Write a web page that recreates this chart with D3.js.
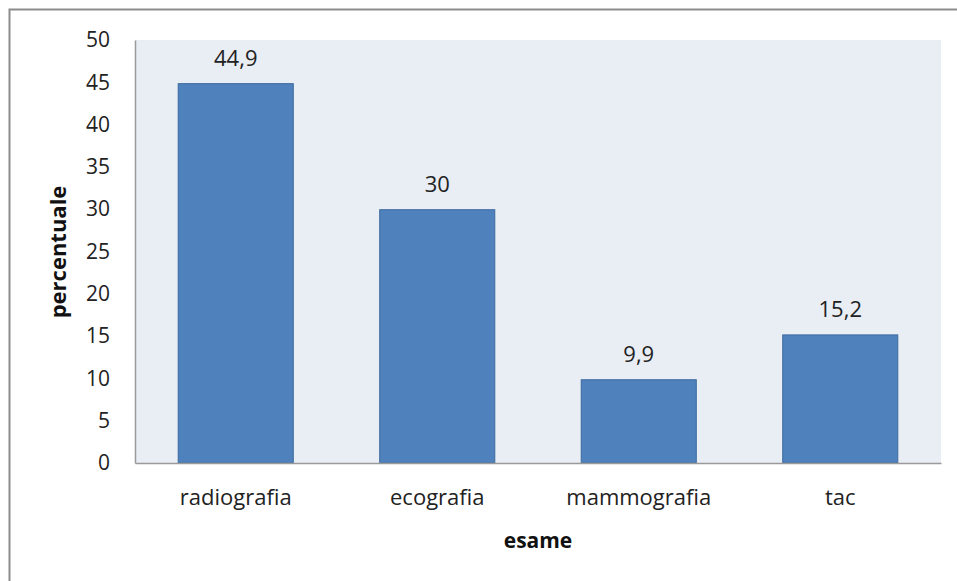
<!DOCTYPE html>
<html><head><meta charset="utf-8">
<script src="https://cdn.jsdelivr.net/npm/d3@7"></script>
<style>
html,body{margin:0;padding:0;background:#fff;}
svg{display:block;font-family:"Open Sans",sans-serif;}
</style></head>
<body><svg id="c" width="957" height="581"></svg>
<script>
const categories = ["radiografia","ecografia","mammografia","tac"];
const values = [44.9, 30, 9.9, 15.2];
const valueLabels = ["44,9","30","9,9","15,2"];
const yTicks = [0,5,10,15,20,25,30,35,40,45,50];
const xTitle = "esame";
const yTitle = "percentuale";

const svg = d3.select("#c");
const m = {left:135, right:941, top:40, bottom:463};

// outer border
svg.append("rect").attr("x",9.5).attr("y",9.5).attr("width",1000).attr("height",1000)
  .attr("fill","none").attr("stroke","#8c8c8c").attr("stroke-width",2);

svg.append("rect").attr("x",m.left).attr("y",m.top).attr("width",m.right-m.left).attr("height",m.bottom-m.top)
  .attr("fill","#e9edf4");

const x = d3.scaleBand().domain(categories).range([m.left,m.right]).paddingInner(0.424).paddingOuter(0.212);
const y = d3.scaleLinear().domain([0,50]).range([m.bottom,m.top]);

svg.selectAll("rect.bar").data(values).join("rect").attr("class","bar")
  .attr("x",(d,i)=>x(categories[i])+0.5).attr("y",d=>y(d)+0.5)
  .attr("width",x.bandwidth()-1).attr("height",d=>y(0)-y(d)-0.5)
  .attr("fill","#4f81bd").attr("stroke","#3d6a9e").attr("stroke-width",1);

// axes
const ya = svg.append("g").attr("transform",`translate(${m.left},0)`)
  .call(d3.axisLeft(y).tickValues(yTicks).tickSize(0).tickPadding(25));
ya.select(".domain").attr("stroke","#9a9a9a").attr("stroke-width",1.5);
ya.selectAll("text").attr("font-size",21).attr("fill","#222").attr("font-family","Open Sans");

const xa = svg.append("g").attr("transform",`translate(0,${m.bottom})`)
  .call(d3.axisBottom(x).tickSize(0).tickPadding(26));
xa.select(".domain").attr("stroke","#9a9a9a").attr("stroke-width",1.5);
xa.selectAll("text").attr("font-size",22).attr("fill","#222").attr("font-family","Open Sans");

svg.selectAll("text.val").data(values).join("text").attr("class","val")
  .attr("x",(d,i)=>x(categories[i])+x.bandwidth()/2).attr("y",d=>y(d)-17)
  .attr("text-anchor","middle").attr("font-size",22).attr("fill","#222")
  .text((d,i)=>valueLabels[i]);

svg.append("text").attr("x",538).attr("y",548).attr("text-anchor","middle")
  .attr("font-size",21).attr("font-weight","bold").attr("fill","#111").text(xTitle);
svg.append("text").attr("transform","translate(66,252) rotate(-90)").attr("text-anchor","middle")
  .attr("font-size",22).attr("font-weight","bold").attr("fill","#111").text(yTitle);
</script></body></html>
